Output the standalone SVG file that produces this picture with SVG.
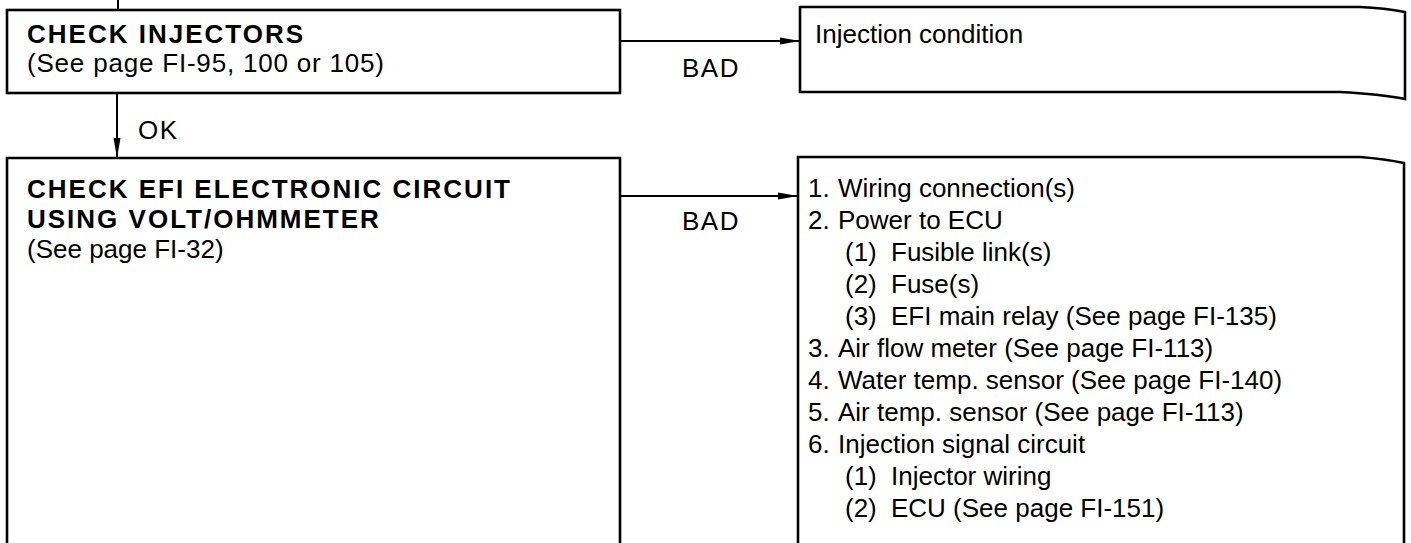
<svg xmlns="http://www.w3.org/2000/svg" width="1411" height="543" viewBox="0 0 1411 543">
<style>
.box{fill:none;stroke:#000;stroke-width:2.6;stroke-linejoin:miter}
.ln{fill:none;stroke:#000;stroke-width:2}
.t{font-family:"Liberation Sans",Arial,sans-serif;font-size:26px;fill:#000}
.b{font-weight:bold;letter-spacing:2px}
.lbl{letter-spacing:1.5px}
</style>
<defs>
<marker id="ah" viewBox="0 0 20 8" refX="20" refY="4" markerWidth="20" markerHeight="8" markerUnits="userSpaceOnUse" orient="auto">
<path d="M0,0.5 L20,4 L0,7.5 Z" fill="#000"/>
</marker>
</defs>
<g id="connectors">
<line class="ln" x1="118" y1="0" x2="118" y2="10"/>
<line class="ln" x1="117" y1="93" x2="117" y2="158" marker-end="url(#ah)"/>
<line class="ln" x1="620" y1="41" x2="800" y2="41" marker-end="url(#ah)"/>
<line class="ln" x1="620" y1="196" x2="798" y2="196" marker-end="url(#ah)"/>
<text class="t lbl" x="138" y="139">OK</text>
<text class="t lbl" x="682" y="77">BAD</text>
<text class="t lbl" x="682" y="230">BAD</text>
</g>
<g id="check-injectors">
<rect class="box" x="7" y="10" width="613" height="83"/>
<text class="t b" x="27" y="43">CHECK  INJECTORS</text>
<text class="t" x="27" y="72" letter-spacing="0.8">(See page FI-95, 100 or 105)</text>
</g>
<g id="injection-condition">
<path class="box" d="M800,7 L1360,7 Q1385,8 1405,12 L1405,99 Q1380,94 1340,92 L800,92 Z"/>
<text class="t" x="815" y="43">Injection condition</text>
</g>
<g id="check-efi">
<path class="box" d="M7,545 L7,158 L620,158 L620,545"/>
<text class="t b" x="27" y="198">CHECK  EFI  ELECTRONIC  CIRCUIT</text>
<text class="t b" x="27" y="228">USING  VOLT/OHMMETER</text>
<text class="t" x="27" y="258">(See page FI-32)</text>
</g>
<g id="causes">
<path class="box" d="M798,545 L798,157 L1360,157 Q1385,159 1404,163 L1404,545"/>
<text class="t">
<tspan x="808" y="197">1.</tspan><tspan x="838">Wiring connection(s)</tspan>
<tspan x="808" y="229">2.</tspan><tspan x="838">Power to ECU</tspan>
<tspan x="845" y="261">(1)</tspan><tspan x="891">Fusible link(s)</tspan>
<tspan x="845" y="293">(2)</tspan><tspan x="891">Fuse(s)</tspan>
<tspan x="845" y="325">(3)</tspan><tspan x="891">EFI main relay (See page FI-135)</tspan>
<tspan x="808" y="357">3.</tspan><tspan x="838">Air flow meter (See page FI-113)</tspan>
<tspan x="808" y="389">4.</tspan><tspan x="838">Water temp. sensor (See page FI-140)</tspan>
<tspan x="808" y="421">5.</tspan><tspan x="838">Air temp. sensor (See page FI-113)</tspan>
<tspan x="808" y="453">6.</tspan><tspan x="838">Injection signal circuit</tspan>
<tspan x="845" y="485">(1)</tspan><tspan x="891">Injector wiring</tspan>
<tspan x="845" y="517">(2)</tspan><tspan x="891">ECU (See page FI-151)</tspan>
</text>
</g>
</svg>
